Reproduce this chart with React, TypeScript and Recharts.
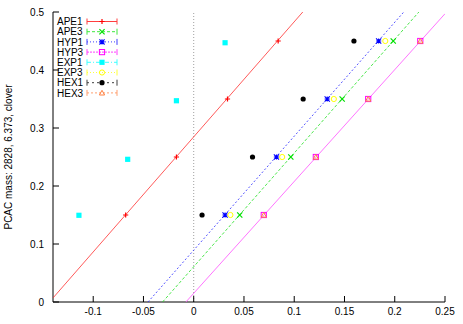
import React from 'react';
import {
  ScatterChart, Scatter, XAxis, YAxis, ReferenceLine, Legend,
} from 'recharts';

// masses on the y axis (same for all smearings)
const yRows = [0.15, 0.25, 0.35, 0.45];
const yExp1 = [0.1495, 0.246, 0.347, 0.447];

// x positions
const xApe1 = [-0.0677, -0.0172, 0.0336, 0.084];
const xApe3 = [0.0458, 0.0966, 0.1477, 0.1985];
const xHyp1 = [0.0312, 0.0823, 0.1328, 0.184];
const xHyp3 = [0.0697, 0.1215, 0.1736, 0.2254];
const xExp1 = [-0.1142, -0.0657, -0.0172, 0.0312];
const xExp3 = [0.0365, 0.088, 0.1394, 0.1906];
const xHex1 = [0.0083, 0.0585, 0.1089, 0.1594];
const xHex3 = [0.0697, 0.1215, 0.1736, 0.2254];

// fit lines, endpoints
const fitApe1 = [{ x: -0.14, y: 0.007 }, { x: 0.1085, y: 0.5 }];
const fitHyp1 = [{ x: -0.0455, y: 0 }, { x: 0.209, y: 0.5 }];
const fitApe3 = [{ x: -0.031, y: 0 }, { x: 0.224, y: 0.5 }];
const fitHyp3 = [{ x: -0.0078, y: 0 }, { x: 0.25, y: 0.497 }];

const xTicks = [-0.1, -0.05, 0, 0.05, 0.1, 0.15, 0.2, 0.25];
const yTicks = [0, 0.1, 0.2, 0.3, 0.4, 0.5];

const pts = (xs: number[], ys: number[]) => xs.map((x, i) => ({ x, y: ys[i] }));

type Kind = 'plus' | 'cross' | 'star' | 'box' | 'fbox' | 'circ' | 'fcirc' | 'tri';

const series: { name: string; color: string; kind: Kind; dash: string; data: { x: number; y: number }[] }[] = [
  { name: 'APE1', color: '#ff0000', kind: 'plus', dash: '', data: pts(xApe1, yRows) },
  { name: 'APE3', color: '#00e000', kind: 'cross', dash: '3 2', data: pts(xApe3, yRows) },
  { name: 'HYP1', color: '#0000ff', kind: 'star', dash: '1 2', data: pts(xHyp1, yRows) },
  { name: 'HYP3', color: '#ff00ff', kind: 'box', dash: '2 1', data: pts(xHyp3, yRows) },
  { name: 'EXP1', color: '#00ffff', kind: 'fbox', dash: '4 2 1 2', data: pts(xExp1, yExp1) },
  { name: 'EXP3', color: '#ffff00', kind: 'circ', dash: '1 2', data: pts(xExp3, yRows) },
  { name: 'HEX1', color: '#000000', kind: 'fcirc', dash: '2 3', data: pts(xHex1, yRows) },
  { name: 'HEX3', color: '#ff8040', kind: 'tri', dash: '2 2', data: pts(xHex3, yRows) },
];

const marker = (kind: Kind, color: string, cx: number, cy: number) => {
  const s = 2.6;
  switch (kind) {
    case 'plus':
      return <path d={`M${cx - s},${cy}H${cx + s}M${cx},${cy - s}V${cy + s}`} stroke={color} strokeWidth={1.2} />;
    case 'cross':
      return <path d={`M${cx - s},${cy - s}L${cx + s},${cy + s}M${cx - s},${cy + s}L${cx + s},${cy - s}`} stroke={color} strokeWidth={1.2} />;
    case 'star':
      return <path d={`M${cx - s},${cy}H${cx + s}M${cx},${cy - s}V${cy + s}M${cx - s},${cy - s}L${cx + s},${cy + s}M${cx - s},${cy + s}L${cx + s},${cy - s}`} stroke={color} strokeWidth={1.1} />;
    case 'box':
      return <rect x={cx - s} y={cy - s} width={2 * s} height={2 * s} fill="none" stroke={color} strokeWidth={1} />;
    case 'fbox':
      return <rect x={cx - s} y={cy - s} width={2 * s} height={2 * s} fill={color} />;
    case 'circ':
      return <circle cx={cx} cy={cy} r={s} fill="none" stroke={color} strokeWidth={1} />;
    case 'fcirc':
      return <circle cx={cx} cy={cy} r={s} fill={color} />;
    case 'tri':
      return <path d={`M${cx},${cy - s}L${cx + s},${cy + s - 0.5}L${cx - s},${cy + s - 0.5}Z`} fill="none" stroke={color} strokeWidth={1} />;
  }
};

const font = 'Liberation Sans, Arial, sans-serif';

const LegendBox = () => (
  <svg width={80} height={84} style={{ display: 'block' }}>
    {series.map((s, i) => {
      const y = 7.5 + i * 10.2;
      return (
        <g key={s.name}>
          <text x={4} y={y} dy="0.36em" fontSize={10} fontFamily={font} fill="#000">{s.name}</text>
          <g opacity={0.75}>
            <line x1={34} x2={64} y1={y} y2={y} stroke={s.color} strokeWidth={1} strokeDasharray={s.dash || undefined} />
            <line x1={34} x2={34} y1={y - 3} y2={y + 3} stroke={s.color} strokeWidth={1} />
            <line x1={64} x2={64} y1={y - 3} y2={y + 3} stroke={s.color} strokeWidth={1} />
          </g>
          {marker(s.kind, s.color, 49, y)}
        </g>
      );
    })}
  </svg>
);

const tickStyle = { fontSize: 10, fill: '#000', fontFamily: font };

export default function App() {
  return (
    <div style={{ position: 'absolute', left: 0, top: 0, background: '#fff' }}>
      <ScatterChart width={463} height={324} margin={{ top: 12, right: 18, bottom: 0, left: 0 }}>
        <XAxis xAxisId={0} type="number" dataKey="x" domain={[-0.14, 0.25]} ticks={xTicks} allowDataOverflow
          height={22} tickSize={-6} tickMargin={12} stroke="#000" tick={tickStyle} interval={0} />
        <XAxis xAxisId="top" orientation="top" type="number" dataKey="x" domain={[-0.14, 0.25]} ticks={xTicks}
          allowDataOverflow height={0} tickSize={-6} tick={false} stroke="#000" />
        <YAxis yAxisId={0} type="number" dataKey="y" domain={[0, 0.5]} ticks={yTicks} allowDataOverflow
          width={53} tickSize={-6} tickMargin={15} stroke="#000" tick={tickStyle} interval={0}
          label={{ value: 'PCAC mass: 2828, 6.373, clover', angle: -90, position: 'insideLeft', offset: 8,
            style: { textAnchor: 'middle', fontSize: 10, fontFamily: font, fill: '#000' } }} />
        <YAxis yAxisId="right" orientation="right" type="number" dataKey="y" domain={[0, 0.5]} ticks={yTicks}
          allowDataOverflow width={0} tickSize={-6} tick={false} stroke="#000" />
        <ReferenceLine x={0} stroke="#a0a0a0" strokeDasharray="1 2" />
        <Scatter data={fitApe1} line={{ stroke: '#ff3030', strokeWidth: 0.8 }} shape={() => <g />} isAnimationActive={false} legendType="none" />
        <Scatter data={fitHyp1} line={{ stroke: '#3030ff', strokeWidth: 0.8, strokeDasharray: '2 2' }} shape={() => <g />} isAnimationActive={false} legendType="none" />
        <Scatter data={fitApe3} line={{ stroke: '#20e020', strokeWidth: 0.8, strokeDasharray: '3 2' }} shape={() => <g />} isAnimationActive={false} legendType="none" />
        <Scatter data={fitHyp3} line={{ stroke: '#ff50ff', strokeWidth: 0.8 }} shape={() => <g />} isAnimationActive={false} legendType="none" />
        {series.map((s) => (
          <Scatter key={s.name} name={s.name} data={s.data} isAnimationActive={false}
            shape={(p: any) => marker(s.kind, s.color, p.cx, p.cy)} />
        ))}
        <Legend layout="vertical" align="center" verticalAlign="middle" content={() => <LegendBox />}
          wrapperStyle={{ left: 53, top: 14, width: 80, height: 84 }} />
      </ScatterChart>
    </div>
  );
}
